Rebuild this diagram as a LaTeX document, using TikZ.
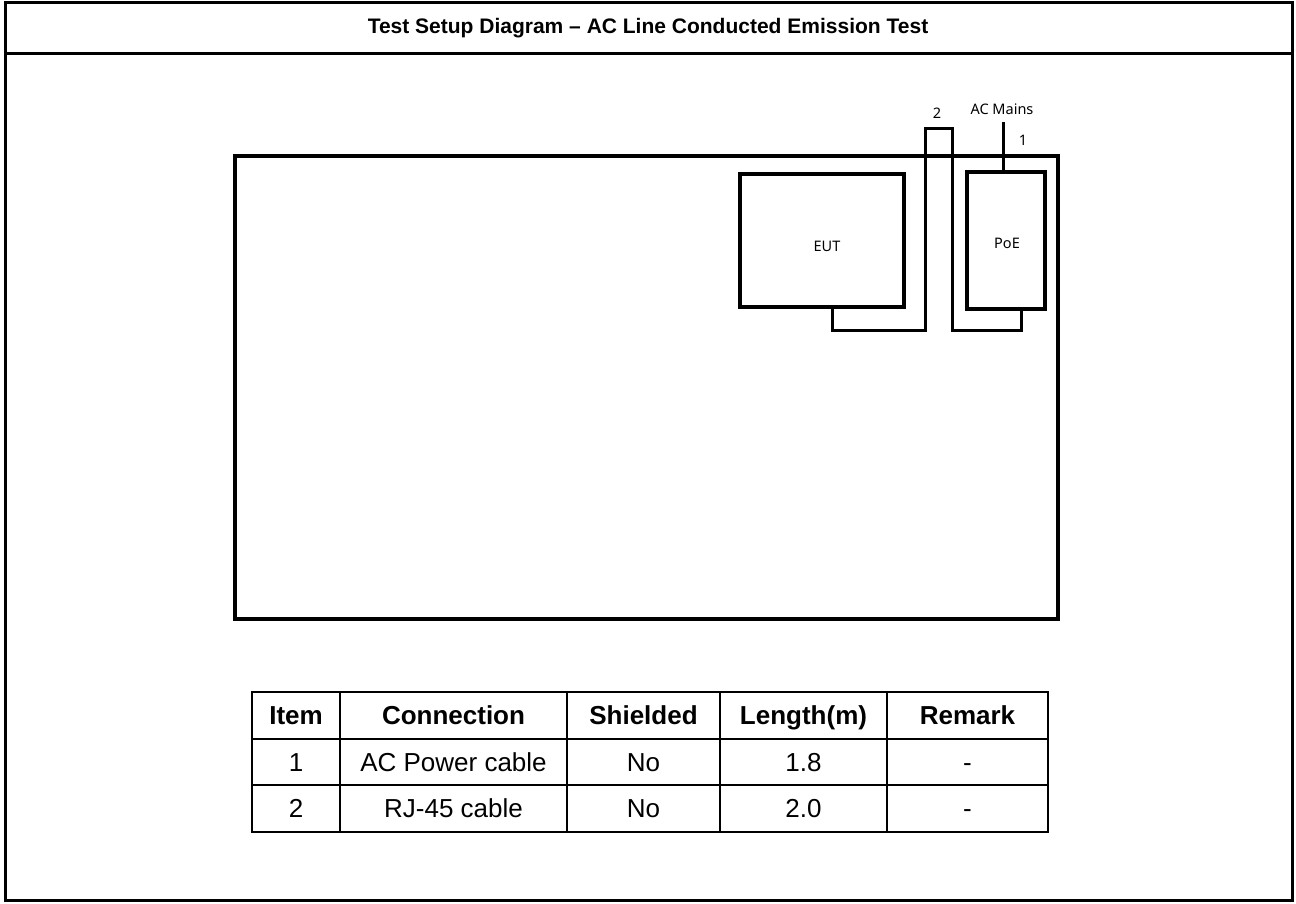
\documentclass[tikz,border=0pt]{standalone}
\usepackage{fontspec}
\setmainfont{Liberation Sans}
\newfontfamily\lblfont{Noto Sans}
\begin{document}
\begin{tikzpicture}[x=1pt,y=-1pt,
  frame/.style={line width=3pt},
  bench/.style={line width=4pt},
  devbox/.style={draw,line width=3.5pt,inner sep=0pt},
  cable/.style={line width=3pt},
  lbl/.style={inner sep=0pt,text height=10.4pt,text depth=0pt,font=\lblfont\fontsize{14.5}{17}\selectfont},
  grid/.style={line width=2.5pt},
  head/.style={inner sep=0pt,text height=18.6pt,text depth=0pt,font=\bfseries\fontsize{26}{30}\selectfont},
  cell/.style={inner sep=0pt,text height=18.6pt,text depth=0pt,font=\fontsize{26}{30}\selectfont}]
\useasboundingbox (0,0) rectangle (1296,903);
% outer frame
\draw[frame] (5,2) rectangle (1292,900);
\draw[frame] (5,53) -- (1292,53);
\node[inner sep=0pt,text height=15pt,text depth=0pt,font=\bfseries\fontsize{21}{25}\selectfont] (title) at (648,26) {Test Setup Diagram -- AC Line Conducted Emission Test};
% bench
\draw[bench] (235,156) rectangle (1058,619);
% devices
\node[devbox,minimum width=164pt,minimum height=133pt] (eut) at (822,240.5) {};
\node[devbox,minimum width=78pt,minimum height=137pt] (poe) at (1006,240.5) {};
\node[lbl] (eutl) at (827,246) {EUT};
\node[lbl] (poel) at (1007,243) {PoE};
% cable 2
\coordinate (c2a) at (925,128);
\coordinate (c2b) at (952,128);
\draw[cable] ([xshift=10pt]eut.south) |- (925,330) -- (c2a) -- (c2b) -- (952,330) -| ([xshift=15pt]poe.south);
% AC mains
\coordinate (acm) at (1003,122);
\draw[cable] (acm) -- (poe.north -| acm);
\node[lbl] (acl) at (1002,109) {AC Mains};
\node[lbl] (n2) at (937,113) {2};
\node[lbl] (n1) at (1023,140) {1};
% table
\draw[grid] (252,692) rectangle (1048,832);
\draw[grid] (252,739) -- (1048,739);
\draw[grid] (252,785) -- (1048,785);
\foreach \xx in {340,567,720,887} \draw[grid] (\xx,692) -- (\xx,832);
\node[head] (h1) at (296,715.5) {Item};
\node[head] (h2) at (453.5,715.5) {Connection};
\node[head] (h3) at (643.5,715.5) {Shielded};
\node[head] (h4) at (803.5,715.5) {Length(m)};
\node[head] (h5) at (967.5,715.5) {Remark};
\node[cell] (a1) at (296,762) {1};
\node[cell] (a2) at (453.5,762) {AC Power cable};
\node[cell] (a3) at (643.5,762) {No};
\node[cell] (a4) at (803.5,762) {1.8};
\node[cell] (a5) at (967.5,762) {-};
\node[cell] (b1) at (296,808.5) {2};
\node[cell] (b2) at (453.5,808.5) {RJ-45 cable};
\node[cell] (b3) at (643.5,808.5) {No};
\node[cell] (b4) at (803.5,808.5) {2.0};
\node[cell] (b5) at (967.5,808.5) {-};
\end{tikzpicture}
\end{document}
